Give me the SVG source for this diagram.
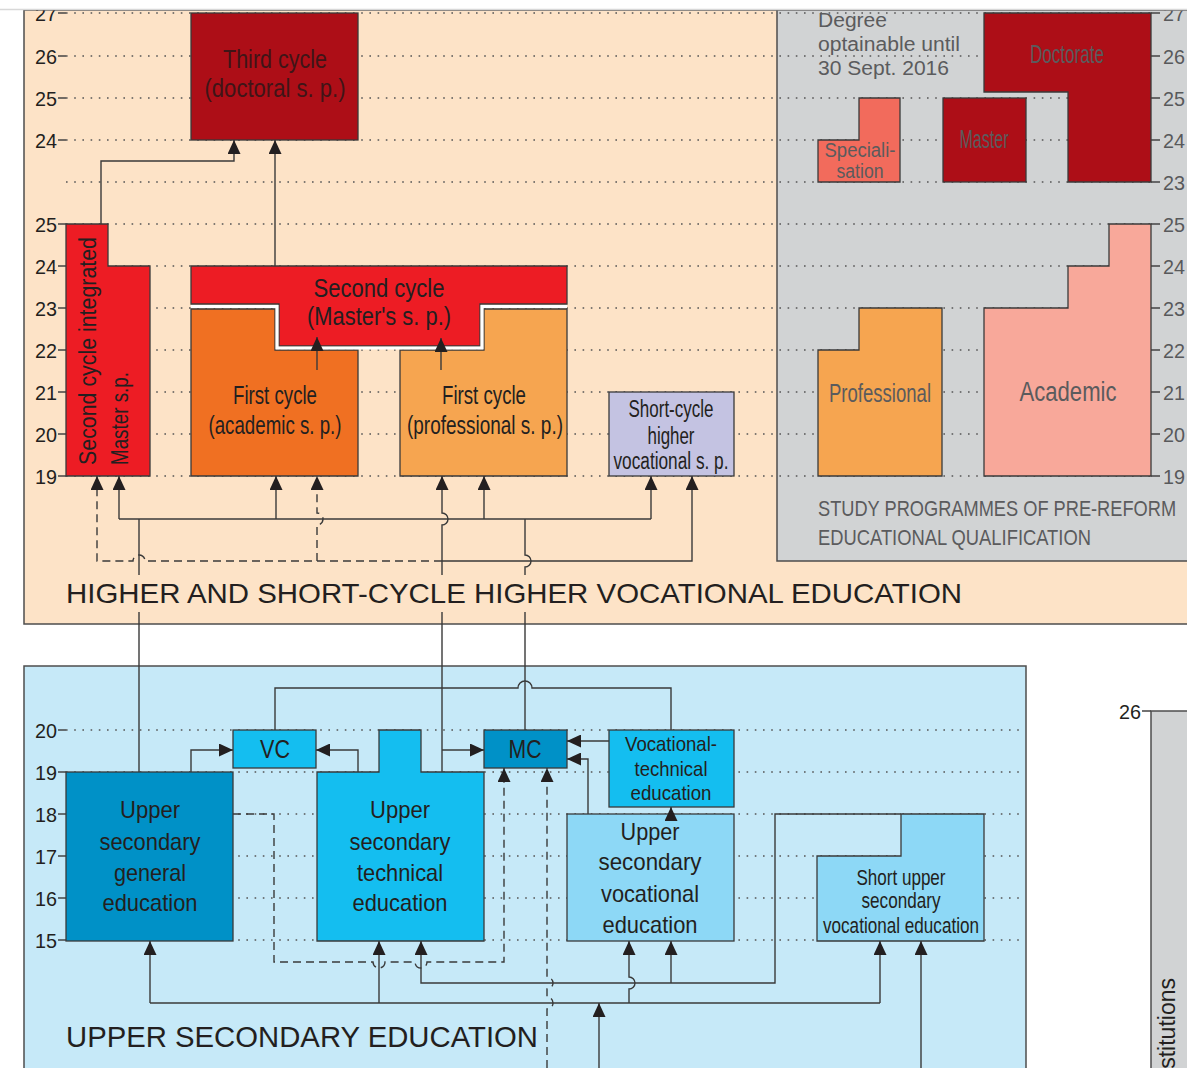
<svg xmlns="http://www.w3.org/2000/svg" width="1187" height="1068" viewBox="0 0 1187 1068">
<defs>
<marker id="arw" viewBox="0 0 14 13" refX="14" refY="6.5" markerWidth="14" markerHeight="13" markerUnits="userSpaceOnUse" orient="auto">
<path d="M0,0 L14,6.5 L0,13 Z" fill="#231f20"/>
</marker>
<style>
.panel{stroke:#4d4d4d;stroke-width:1.5}
.box{stroke:#3a3a3a;stroke-width:1.3}
.grid{stroke:#555;stroke-width:1.6;stroke-dasharray:1.6 6.6;fill:none}
.tick{stroke:#444;stroke-width:1.3;fill:none}
.ln{fill:none;stroke:#3a3a3a;stroke-width:1.4}
.dash{stroke-dasharray:8 5}
.arr{marker-end:url(#arw)}
text{font-family:"Liberation Sans",Arial,sans-serif;fill:#231f20}
.lbl{text-anchor:middle}
.ax{font-size:21px;text-anchor:end}
.axr{font-size:21px;fill:#58595b}
.grey{fill:#5b5b5d}
.dred{fill:#ad0e17}
.red{fill:#ed1c24}
</style>
</defs>

<rect x="0" y="0" width="1187" height="1068" fill="#fff"/>

<!-- panels -->
<rect class="panel" x="24" y="10" width="1190" height="614" fill="#fde3c7"/>
<rect class="panel" x="777" y="10" width="430" height="551" fill="#d1d3d4"/>
<rect class="panel" x="24" y="666" width="1002" height="420" fill="#c6e9f8"/>
<rect class="panel" x="1151" y="711" width="60" height="380" fill="#d1d3d4"/>

<!-- age grid -->
<g class="grid">
<path d="M66,13 H1151 M66,56 H1151 M66,98 H1151 M66,140 H1151 M66,182 H1151"/>
<path d="M66,224 H1151 M66,266 H1151 M66,308 H1151 M66,350 H1151 M66,392 H1151 M66,434 H1151 M66,476 H1151"/>
<path d="M66,730 H1024 M66,772 H1024 M66,814 H1024 M66,856 H1024 M66,898 H1024 M66,940 H1024"/>
</g>
<path class="tick" d="M58,13 H66 M58,56 H66 M58,98 H66 M58,140 H66 M58,224 H66 M58,266 H66 M58,308 H66 M58,350 H66 M58,392 H66 M58,434 H66 M58,476 H66 M58,730 H66 M58,772 H66 M58,814 H66 M58,856 H66 M58,898 H66 M58,940 H66"/>
<path class="tick" d="M1151,13 H1160 M1151,56 H1160 M1151,98 H1160 M1151,140 H1160 M1151,182 H1160 M1151,224 H1160 M1151,266 H1160 M1151,308 H1160 M1151,350 H1160 M1151,392 H1160 M1151,434 H1160 M1151,476 H1160 M1142,711 H1151"/>

<g id="axis-left">
<text class="ax" x="57" y="20.5" textLength="22" lengthAdjust="spacingAndGlyphs">27</text>
<text class="ax" x="57" y="63.5" textLength="22" lengthAdjust="spacingAndGlyphs">26</text>
<text class="ax" x="57" y="105.5" textLength="22" lengthAdjust="spacingAndGlyphs">25</text>
<text class="ax" x="57" y="147.5" textLength="22" lengthAdjust="spacingAndGlyphs">24</text>
<text class="ax" x="57" y="231.5" textLength="22" lengthAdjust="spacingAndGlyphs">25</text>
<text class="ax" x="57" y="273.5" textLength="22" lengthAdjust="spacingAndGlyphs">24</text>
<text class="ax" x="57" y="315.5" textLength="22" lengthAdjust="spacingAndGlyphs">23</text>
<text class="ax" x="57" y="357.5" textLength="22" lengthAdjust="spacingAndGlyphs">22</text>
<text class="ax" x="57" y="399.5" textLength="22" lengthAdjust="spacingAndGlyphs">21</text>
<text class="ax" x="57" y="441.5" textLength="22" lengthAdjust="spacingAndGlyphs">20</text>
<text class="ax" x="57" y="483.5" textLength="22" lengthAdjust="spacingAndGlyphs">19</text>
<text class="ax" x="57" y="737.5" textLength="22" lengthAdjust="spacingAndGlyphs">20</text>
<text class="ax" x="57" y="779.5" textLength="22" lengthAdjust="spacingAndGlyphs">19</text>
<text class="ax" x="57" y="821.5" textLength="22" lengthAdjust="spacingAndGlyphs">18</text>
<text class="ax" x="57" y="863.5" textLength="22" lengthAdjust="spacingAndGlyphs">17</text>
<text class="ax" x="57" y="905.5" textLength="22" lengthAdjust="spacingAndGlyphs">16</text>
<text class="ax" x="57" y="947.5" textLength="22" lengthAdjust="spacingAndGlyphs">15</text>
<text class="ax" x="1141" y="718.5" textLength="22" lengthAdjust="spacingAndGlyphs">26</text>
</g>
<g id="axis-right">
<text class="axr" x="1163" y="20.5" textLength="22" lengthAdjust="spacingAndGlyphs">27</text>
<text class="axr" x="1163" y="63.5" textLength="22" lengthAdjust="spacingAndGlyphs">26</text>
<text class="axr" x="1163" y="105.5" textLength="22" lengthAdjust="spacingAndGlyphs">25</text>
<text class="axr" x="1163" y="147.5" textLength="22" lengthAdjust="spacingAndGlyphs">24</text>
<text class="axr" x="1163" y="189.5" textLength="22" lengthAdjust="spacingAndGlyphs">23</text>
<text class="axr" x="1163" y="231.5" textLength="22" lengthAdjust="spacingAndGlyphs">25</text>
<text class="axr" x="1163" y="273.5" textLength="22" lengthAdjust="spacingAndGlyphs">24</text>
<text class="axr" x="1163" y="315.5" textLength="22" lengthAdjust="spacingAndGlyphs">23</text>
<text class="axr" x="1163" y="357.5" textLength="22" lengthAdjust="spacingAndGlyphs">22</text>
<text class="axr" x="1163" y="399.5" textLength="22" lengthAdjust="spacingAndGlyphs">21</text>
<text class="axr" x="1163" y="441.5" textLength="22" lengthAdjust="spacingAndGlyphs">20</text>
<text class="axr" x="1163" y="483.5" textLength="22" lengthAdjust="spacingAndGlyphs">19</text>
</g>

<!-- higher education nodes -->
<g id="third-cycle">
<rect class="box dred" x="191" y="13" width="167" height="127"/>
<text class="lbl" x="275" y="68" font-size="25" style="fill:#3f1517" textLength="104" lengthAdjust="spacingAndGlyphs">Third cycle</text>
<text class="lbl" x="275" y="97" font-size="25" style="fill:#3f1517" textLength="141" lengthAdjust="spacingAndGlyphs">(doctoral s. p.)</text>
</g>
<g id="second-cycle-integrated">
<path class="box red" d="M66,224 H108 V266 H150 V476 H66 Z"/>
<text transform="translate(96,465) rotate(-90)" font-size="23" textLength="228" lengthAdjust="spacingAndGlyphs">Second cycle integrated</text>
<text transform="translate(128,465) rotate(-90)" font-size="23" textLength="93" lengthAdjust="spacingAndGlyphs">Master s.p.</text>
</g>
<g id="second-cycle">
<path class="box red" d="M191,266 H567 V304 H480 V346 H279 V304 H191 Z"/>
<text class="lbl" x="379" y="297" font-size="25" textLength="131" lengthAdjust="spacingAndGlyphs">Second cycle</text>
<text class="lbl" x="379" y="325" font-size="25" textLength="144" lengthAdjust="spacingAndGlyphs">(Master's s. p.)</text>
</g>
<g id="first-cycle-academic">
<path class="box" fill="#f07022" d="M191,309 H275 V350 H358 V476 H191 Z"/>
<text class="lbl" x="275" y="404" font-size="25" textLength="84" lengthAdjust="spacingAndGlyphs">First cycle</text>
<text class="lbl" x="275" y="434" font-size="25" textLength="133" lengthAdjust="spacingAndGlyphs">(academic s. p.)</text>
</g>
<g id="first-cycle-professional">
<path class="box" fill="#f6a550" d="M400,350 H484 V309 H567 V476 H400 Z"/>
<text class="lbl" x="484" y="404" font-size="25" textLength="84" lengthAdjust="spacingAndGlyphs">First cycle</text>
<text class="lbl" x="485" y="434" font-size="25" textLength="156" lengthAdjust="spacingAndGlyphs">(professional s. p.)</text>
</g>
<!-- white seam between second and first cycle blocks -->
<polyline points="191,306.5 277,306.5 277,348 482,348 482,306.5 567,306.5" fill="none" stroke="#fff" stroke-width="3"/>
<g id="short-cycle">
<rect class="box" fill="#c4c3e2" x="609" y="392" width="125" height="84"/>
<text class="lbl" x="671" y="417" font-size="23" textLength="85" lengthAdjust="spacingAndGlyphs">Short-cycle</text>
<text class="lbl" x="671" y="444" font-size="23" textLength="47" lengthAdjust="spacingAndGlyphs">higher</text>
<text class="lbl" x="671" y="469" font-size="23" textLength="115" lengthAdjust="spacingAndGlyphs">vocational s. p.</text>
</g>

<!-- pre-reform programmes -->
<g id="pre-reform-note">
<text x="818" y="27" font-size="20" class="grey" textLength="69" lengthAdjust="spacingAndGlyphs">Degree</text>
<text x="818" y="51" font-size="20" class="grey" textLength="142" lengthAdjust="spacingAndGlyphs">optainable until</text>
<text x="818" y="75" font-size="20" class="grey" textLength="131" lengthAdjust="spacingAndGlyphs">30 Sept. 2016</text>
</g>
<g id="specialisation">
<path class="box" fill="#f26b5c" d="M818,140 H859 V98 H900 V182 H818 Z"/>
<text class="lbl grey" x="860" y="157" font-size="20" textLength="71" lengthAdjust="spacingAndGlyphs">Speciali-</text>
<text class="lbl grey" x="860" y="178" font-size="20" textLength="47" lengthAdjust="spacingAndGlyphs">sation</text>
</g>
<g id="master">
<rect class="box dred" x="943" y="98" width="83" height="84"/>
<text class="lbl grey" x="984" y="148" font-size="25" textLength="49" lengthAdjust="spacingAndGlyphs">Master</text>
</g>
<g id="doctorate">
<path class="box dred" d="M984,13 H1151 V182 H1068 V92 H984 Z"/>
<text class="lbl grey" x="1067" y="63" font-size="25" textLength="74" lengthAdjust="spacingAndGlyphs">Doctorate</text>
</g>
<g id="professional">
<path class="box" fill="#f6a550" d="M818,350 H859 V308 H942 V476 H818 Z"/>
<text class="lbl grey" x="880" y="402" font-size="25" textLength="102" lengthAdjust="spacingAndGlyphs">Professional</text>
</g>
<g id="academic">
<path class="box" fill="#f8a89a" d="M984,308 H1068 V266 H1109 V224 H1151 V476 H984 Z"/>
<text class="lbl grey" x="1068" y="401" font-size="27" textLength="97" lengthAdjust="spacingAndGlyphs">Academic</text>
</g>
<g id="pre-reform-title">
<text transform="translate(818,516) scale(0.827,1)" font-size="22" class="grey" textLength="433" lengthAdjust="spacingAndGlyphs">STUDY PROGRAMMES OF PRE-REFORM</text>
<text transform="translate(818,545) scale(0.81,1)" font-size="22" class="grey" textLength="337" lengthAdjust="spacingAndGlyphs">EDUCATIONAL QUALIFICATION</text>
</g>

<!-- upper secondary nodes -->
<g id="upper-secondary-general">
<rect class="box" fill="#0091c7" x="66" y="772" width="167" height="169"/>
<text class="lbl" x="150" y="818" font-size="24" textLength="60" lengthAdjust="spacingAndGlyphs">Upper</text>
<text class="lbl" x="150" y="850" font-size="24" textLength="101" lengthAdjust="spacingAndGlyphs">secondary</text>
<text class="lbl" x="150" y="881" font-size="24" textLength="72" lengthAdjust="spacingAndGlyphs">general</text>
<text class="lbl" x="150" y="911" font-size="24" textLength="95" lengthAdjust="spacingAndGlyphs">education</text>
</g>
<g id="vc">
<rect class="box" fill="#14bef0" x="233" y="730" width="83" height="38"/>
<text class="lbl" x="275" y="758" font-size="25" textLength="30" lengthAdjust="spacingAndGlyphs">VC</text>
</g>
<g id="upper-secondary-technical">
<path class="box" fill="#14bef0" d="M317,772 H379 V730 H421 V772 H484 V941 H317 Z"/>
<text class="lbl" x="400" y="818" font-size="24" textLength="60" lengthAdjust="spacingAndGlyphs">Upper</text>
<text class="lbl" x="400" y="850" font-size="24" textLength="101" lengthAdjust="spacingAndGlyphs">secondary</text>
<text class="lbl" x="400" y="881" font-size="24" textLength="86" lengthAdjust="spacingAndGlyphs">technical</text>
<text class="lbl" x="400" y="911" font-size="24" textLength="95" lengthAdjust="spacingAndGlyphs">education</text>
</g>
<g id="mc">
<rect class="box" fill="#0091c7" x="484" y="730" width="83" height="38"/>
<text class="lbl" x="525" y="758" font-size="25" textLength="33" lengthAdjust="spacingAndGlyphs">MC</text>
</g>
<g id="vocational-technical">
<rect class="box" fill="#14bef0" x="609" y="730" width="125" height="77"/>
<text class="lbl" x="671" y="751" font-size="21" textLength="92" lengthAdjust="spacingAndGlyphs">Vocational-</text>
<text class="lbl" x="671" y="776" font-size="21" textLength="73" lengthAdjust="spacingAndGlyphs">technical</text>
<text class="lbl" x="671" y="800" font-size="21" textLength="81" lengthAdjust="spacingAndGlyphs">education</text>
</g>
<g id="upper-secondary-vocational">
<rect class="box" fill="#8dd8f6" x="567" y="814" width="167" height="127"/>
<text class="lbl" x="650" y="840" font-size="24" textLength="59" lengthAdjust="spacingAndGlyphs">Upper</text>
<text class="lbl" x="650" y="870" font-size="24" textLength="103" lengthAdjust="spacingAndGlyphs">secondary</text>
<text class="lbl" x="650" y="902" font-size="24" textLength="98" lengthAdjust="spacingAndGlyphs">vocational</text>
<text class="lbl" x="650" y="933" font-size="24" textLength="95" lengthAdjust="spacingAndGlyphs">education</text>
</g>
<g id="short-upper-secondary-vocational">
<path class="box" fill="#8dd8f6" d="M817,856 H901 V814 H984 V941 H817 Z"/>
<text class="lbl" x="901" y="885" font-size="22" textLength="89" lengthAdjust="spacingAndGlyphs">Short upper</text>
<text class="lbl" x="901" y="908" font-size="22" textLength="79" lengthAdjust="spacingAndGlyphs">secondary</text>
<text class="lbl" x="901" y="933" font-size="22" textLength="156" lengthAdjust="spacingAndGlyphs">vocational education</text>
</g>

<!-- connectors -->
<g id="connectors">
<path class="ln arr" d="M101,224 V161 H234 V140"/>
<path class="ln arr" d="M275,266 V140"/>
<path class="ln arr" d="M317,370 V337"/>
<path class="ln arr" d="M441,370 V338"/>
<path class="ln" d="M139,772 V612 M139,575 V519"/>
<path class="ln" d="M119,519 H651"/>
<path class="ln arr" d="M119,519 V476"/>
<path class="ln arr" d="M276,519 V476"/>
<path class="ln arr" d="M484,519 V476"/>
<path class="ln arr" d="M651,519 V476"/>
<path class="ln arr" d="M442,772 V612 M442,575 V525 A6,6 0 0 0 442,513 V476"/>
<path class="ln arr" d="M442,561 H692 V476"/>
<path class="ln dash arr" d="M442,561 H145 A6,6 0 0 0 133,561 H97 V476"/>
<path class="ln dash arr" d="M317,561 V525 A6,6 0 0 0 317,513 V476"/>
<path class="ln" d="M525,730 V612 M525,575 V567 A6,6 0 0 0 525,555 V519"/>

<path class="ln" d="M275,730 V688 H518 A7,7 0 0 1 532,688 H671 V730"/>
<path class="ln arr" d="M191,772 V750 H233"/>
<path class="ln arr" d="M358,772 V750 H316"/>
<path class="ln arr" d="M442,750 H484"/>
<path class="ln arr" d="M609,741 H567"/>
<path class="ln arr" d="M588,814 V759 H567"/>
<path class="ln arr" d="M671,821 V807"/>
<path class="ln arr" d="M901,814 H775 V983 H421 V941"/>
<path class="ln arr" d="M671,983 V941"/>
<path class="ln" d="M150,1003 H880"/>
<path class="ln arr" d="M150,1003 V941"/>
<path class="ln arr" d="M379,1003 V941"/>
<path class="ln arr" d="M629,1003 V989 A6,6 0 0 0 629,977 V941"/>
<path class="ln arr" d="M880,1003 V941"/>
<path class="ln arr" d="M599,1068 V1003"/>
<path class="ln arr" d="M921,1068 V941"/>
<path class="ln dash arr" d="M233,814 H274 V962 H373 A6,6 0 0 0 385,962 H415 A6,6 0 0 0 427,962 H504 V768"/>
<path class="ln dash arr" d="M547,1068 V1009 A6,6 0 0 0 547,997 V989 A6,6 0 0 0 547,977 V768"/>
</g>

<!-- section titles -->
<text x="66" y="603" font-size="28" textLength="896" lengthAdjust="spacingAndGlyphs">HIGHER AND SHORT-CYCLE HIGHER VOCATIONAL EDUCATION</text>
<text x="66" y="1047" font-size="29" textLength="472" lengthAdjust="spacingAndGlyphs">UPPER SECONDARY EDUCATION</text>
<text transform="translate(1175,978) rotate(-90)" font-size="23" text-anchor="end">stitutions</text>

<!-- page edge -->
<rect x="0" y="0" width="1187" height="9" fill="#fff"/>
<line x1="0" y1="9.5" x2="1187" y2="9.5" stroke="#d8d8d8" stroke-width="1.5"/>
</svg>
